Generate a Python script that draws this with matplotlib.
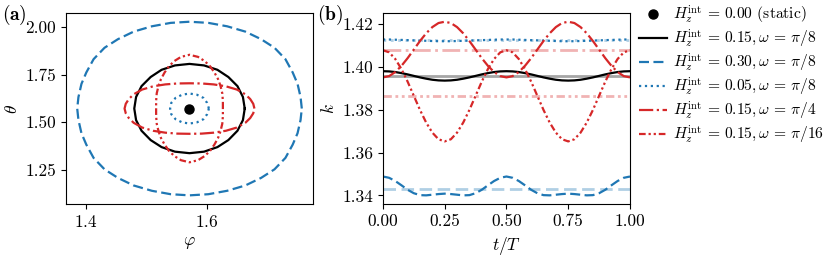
"""Two-panel figure: orbits in (phi, theta) and k(t) over one period."""

import matplotlib
matplotlib.use("Agg")

import matplotlib.pyplot as plt

plt.rcParams["font.family"] = "serif"
plt.rcParams["font.serif"] = ["cmr10"]
plt.rcParams["mathtext.fontset"] = "cm"
plt.rcParams["axes.formatter.use_mathtext"] = True
plt.rcParams["font.size"] = 12.5

BLUE = "#1f77b4"
RED = "#d62728"

# ---- panel (a): closed orbits, (phi, theta) ----
CENTER = (1.5708, 1.5708)  # static fixed point

orbit_h030_pi8 = [
    (1.756, 1.571), (1.754, 1.631), (1.749, 1.701), (1.741, 1.761), (1.729, 1.831),
    (1.711, 1.891), (1.689, 1.936), (1.663, 1.976), (1.633, 2.004), (1.602, 2.022),
    (1.571, 2.028), (1.540, 2.022), (1.509, 2.004), (1.479, 1.976), (1.453, 1.936),
    (1.431, 1.891), (1.413, 1.831), (1.401, 1.761), (1.393, 1.701), (1.388, 1.631),
    (1.386, 1.571), (1.388, 1.511), (1.393, 1.441), (1.401, 1.381), (1.413, 1.311),
    (1.431, 1.251), (1.453, 1.206), (1.479, 1.166), (1.509, 1.138), (1.540, 1.120),
    (1.571, 1.114), (1.602, 1.120), (1.633, 1.138), (1.663, 1.166), (1.689, 1.206),
    (1.711, 1.251), (1.729, 1.311), (1.741, 1.381), (1.749, 1.441), (1.754, 1.511),
    (1.756, 1.571),
]

orbit_h015_pi8 = [
    (1.662, 1.571), (1.659, 1.632), (1.650, 1.689), (1.635, 1.737), (1.617, 1.775),
    (1.595, 1.798), (1.571, 1.806), (1.547, 1.798), (1.525, 1.775), (1.507, 1.737),
    (1.492, 1.689), (1.483, 1.632), (1.480, 1.571), (1.483, 1.510), (1.492, 1.454),
    (1.507, 1.405), (1.525, 1.368), (1.547, 1.344), (1.571, 1.336), (1.595, 1.344),
    (1.617, 1.368), (1.635, 1.405), (1.650, 1.454), (1.659, 1.510), (1.662, 1.571),
]

orbit_h005_pi8 = [
    (1.603, 1.571), (1.600, 1.601), (1.594, 1.627), (1.583, 1.644), (1.571, 1.650),
    (1.559, 1.644), (1.548, 1.627), (1.541, 1.601), (1.539, 1.571), (1.541, 1.541),
    (1.548, 1.515), (1.559, 1.498), (1.571, 1.492), (1.583, 1.498), (1.594, 1.515),
    (1.600, 1.541), (1.603, 1.571),
]

orbit_h015_pi4 = [
    (1.678, 1.571), (1.676, 1.596), (1.671, 1.621), (1.663, 1.646), (1.649, 1.671),
    (1.631, 1.688), (1.611, 1.698), (1.591, 1.703), (1.571, 1.704), (1.551, 1.703),
    (1.531, 1.698), (1.511, 1.688), (1.493, 1.671), (1.479, 1.646), (1.471, 1.621),
    (1.466, 1.596), (1.464, 1.571), (1.466, 1.546), (1.471, 1.521), (1.479, 1.496),
    (1.493, 1.471), (1.511, 1.454), (1.531, 1.444), (1.551, 1.439), (1.571, 1.438),
    (1.591, 1.439), (1.611, 1.444), (1.631, 1.454), (1.649, 1.471), (1.663, 1.496),
    (1.671, 1.521), (1.676, 1.546), (1.678, 1.571),
]

orbit_h015_pi16 = [
    (1.626, 1.571), (1.626, 1.611), (1.625, 1.651), (1.622, 1.691), (1.618, 1.726),
    (1.612, 1.761), (1.605, 1.793), (1.596, 1.821), (1.585, 1.843), (1.571, 1.854),
    (1.557, 1.843), (1.546, 1.821), (1.537, 1.793), (1.530, 1.761), (1.524, 1.726),
    (1.520, 1.691), (1.517, 1.651), (1.516, 1.611), (1.516, 1.571), (1.516, 1.531),
    (1.517, 1.491), (1.520, 1.451), (1.524, 1.416), (1.530, 1.381), (1.537, 1.349),
    (1.546, 1.321), (1.557, 1.299), (1.571, 1.288), (1.585, 1.299), (1.596, 1.321),
    (1.605, 1.349), (1.612, 1.381), (1.618, 1.416), (1.622, 1.451), (1.625, 1.491),
    (1.626, 1.531), (1.626, 1.571),
]

# ---- panel (b): k over one period, sampled every 0.025 T ----
t_over_T = [i / 40 for i in range(41)]

k_h015_pi8 = [1.3980, 1.3979, 1.3976, 1.3971, 1.3965, 1.3958, 1.3951, 1.3945, 1.3940, 1.3937,
              1.3936, 1.3937, 1.3940, 1.3945, 1.3951, 1.3958, 1.3965, 1.3971, 1.3976, 1.3979,
              1.3980, 1.3979, 1.3976, 1.3971, 1.3965, 1.3958, 1.3951, 1.3945, 1.3940, 1.3937,
              1.3936, 1.3937, 1.3940, 1.3945, 1.3951, 1.3958, 1.3965, 1.3971, 1.3976, 1.3979,
              1.3980]
k_h030_pi8 = [1.3488, 1.3482, 1.3467, 1.3447, 1.3426, 1.3410, 1.3401, 1.3400, 1.3403, 1.3406,
              1.3408, 1.3406, 1.3403, 1.3400, 1.3401, 1.3410, 1.3426, 1.3447, 1.3467, 1.3482,
              1.3488, 1.3482, 1.3467, 1.3447, 1.3426, 1.3410, 1.3401, 1.3400, 1.3403, 1.3406,
              1.3408, 1.3406, 1.3403, 1.3400, 1.3401, 1.3410, 1.3426, 1.3447, 1.3467, 1.3482,
              1.3488]
k_h005_pi8 = [1.4128, 1.4128, 1.4127, 1.4126, 1.4125, 1.4124, 1.4123, 1.4122, 1.4121, 1.4120,
              1.4120, 1.4120, 1.4121, 1.4122, 1.4123, 1.4124, 1.4125, 1.4126, 1.4127, 1.4128,
              1.4128, 1.4128, 1.4127, 1.4126, 1.4125, 1.4124, 1.4123, 1.4122, 1.4121, 1.4120,
              1.4120, 1.4120, 1.4121, 1.4122, 1.4123, 1.4124, 1.4125, 1.4126, 1.4127, 1.4128,
              1.4128]
k_h015_pi4 = [1.3951, 1.3957, 1.3976, 1.4005, 1.4041, 1.4081, 1.4121, 1.4157, 1.4186, 1.4205,
              1.4211, 1.4205, 1.4186, 1.4157, 1.4121, 1.4081, 1.4041, 1.4005, 1.3976, 1.3957,
              1.3951, 1.3957, 1.3976, 1.4005, 1.4041, 1.4081, 1.4121, 1.4157, 1.4186, 1.4205,
              1.4211, 1.4205, 1.4186, 1.4157, 1.4121, 1.4081, 1.4041, 1.4005, 1.3976, 1.3957,
              1.3951]
k_h015_pi16 = [1.4078, 1.4068, 1.4037, 1.3990, 1.3931, 1.3865, 1.3799, 1.3740, 1.3693, 1.3662,
               1.3652, 1.3662, 1.3693, 1.3740, 1.3799, 1.3865, 1.3931, 1.3990, 1.4037, 1.4068,
               1.4078, 1.4068, 1.4037, 1.3990, 1.3931, 1.3865, 1.3799, 1.3740, 1.3693, 1.3662,
               1.3652, 1.3662, 1.3693, 1.3740, 1.3799, 1.3865, 1.3931, 1.3990, 1.4037, 1.4068,
               1.4078]

# time averages (faint horizontal lines)
k_mean = {"h015_pi8": 1.3957, "h030_pi8": 1.3431, "h005_pi8": 1.4124,
          "h015_pi4": 1.4081, "h015_pi16": 1.3865}

labels = [
    r"$H_z^{\mathrm{int}} \,=\, 0.00$ (static)",
    r"$H_z^{\mathrm{int}} \,=\, 0.15, \omega \,=\, \pi/8$",
    r"$H_z^{\mathrm{int}} \,=\, 0.30, \omega \,=\, \pi/8$",
    r"$H_z^{\mathrm{int}} \,=\, 0.05, \omega \,=\, \pi/8$",
    r"$H_z^{\mathrm{int}} \,=\, 0.15, \omega \,=\, \pi/4$",
    r"$H_z^{\mathrm{int}} \,=\, 0.15, \omega \,=\, \pi/16$",
]

DASHED = (0, (4.5, 2))
DOTTED = (0, (1, 1.65))
DASHDOT = (0, (6.4, 1.6, 1, 1.6))
DASHDOTDOT = (0, (3, 1.3, 1, 1.3, 1, 1.3))
LW = 1.6

styles = {
    "h015_pi8": dict(color="black", ls="-"),
    "h030_pi8": dict(color=BLUE, ls=DASHED),
    "h005_pi8": dict(color=BLUE, ls=DOTTED),
    "h015_pi4": dict(color=RED, ls=DASHDOT),
    "h015_pi16": dict(color=RED, ls=DASHDOTDOT),
}

orbits = {"h030_pi8": orbit_h030_pi8, "h015_pi8": orbit_h015_pi8, "h005_pi8": orbit_h005_pi8,
          "h015_pi4": orbit_h015_pi4, "h015_pi16": orbit_h015_pi16}
series = {"h015_pi8": k_h015_pi8, "h030_pi8": k_h030_pi8, "h005_pi8": k_h005_pi8,
          "h015_pi4": k_h015_pi4, "h015_pi16": k_h015_pi16}

fig, (ax_a, ax_b) = plt.subplots(1, 2, figsize=(8.3, 2.56), dpi=100)
fig.subplots_adjust(left=0.0795, right=0.759, bottom=0.203, top=0.949, wspace=0.283)

handles = {}
for key, pts in orbits.items():
    phi = [p[0] for p in pts]
    theta = [p[1] for p in pts]
    (line,) = ax_a.plot(phi, theta, lw=LW, **styles[key])
    handles[key] = line
(dot,) = ax_a.plot([CENTER[0]], [CENTER[1]], "o", color="black", ms=6.5, ls="none", zorder=5)

ax_a.set_xlabel(r"$\varphi$")
ax_a.set_ylabel(r"$\theta$")
ax_a.set_xticks([1.4, 1.6])
ax_a.set_yticks([1.25, 1.50, 1.75, 2.00])
ax_a.set_yticklabels(["1.25", "1.50", "1.75", "2.00"])

# faint mean lines first, then the k(t) curves on top
for key, mean in k_mean.items():
    st = styles[key]
    ax_b.plot([0, 1], [mean, mean], color=st["color"], ls=st["ls"], lw=2.0, alpha=0.35)
for key, k in series.items():
    ax_b.plot(t_over_T, k, lw=LW, **styles[key])

ax_b.set_xlim(0, 1)
ax_b.set_xticks([0, 0.25, 0.5, 0.75, 1.0])
ax_b.set_xticklabels(["0.00", "0.25", "0.50", "0.75", "1.00"])
ax_b.set_yticks([1.34, 1.36, 1.38, 1.40, 1.42])
ax_b.set_yticklabels(["1.34", "1.36", "1.38", "1.40", "1.42"])
ax_b.set_xlabel(r"$t/T$")
ax_b.set_ylabel(r"$k$")

order = ["h015_pi8", "h030_pi8", "h005_pi8", "h015_pi4", "h015_pi16"]
ax_b.legend([dot] + [handles[k] for k in order], labels, loc="upper left",
            bbox_to_anchor=(1.0, 1.10), frameon=False, fontsize=11.2, handlelength=1.75,
            handletextpad=0.4, labelspacing=0.12, borderaxespad=0.2)

fig.text(0.002, 0.99, r"$\mathbf{(a)}$", ha="left", va="top", fontsize=14)
fig.text(0.382, 0.99, r"$\mathbf{(b)}$", ha="left", va="top", fontsize=14)

fig.savefig("out.png", dpi=100)
